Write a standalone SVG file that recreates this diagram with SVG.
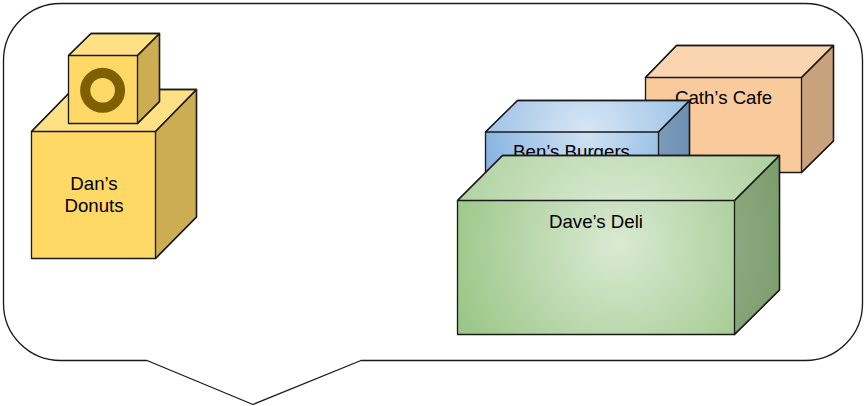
<svg xmlns="http://www.w3.org/2000/svg" width="864" height="406" viewBox="0 0 864 406">
<style>
.o{stroke:#1a1a1a;stroke-width:1.33;stroke-linejoin:round}
.t{font-family:"Liberation Sans",Arial,sans-serif;font-size:18.67px;fill:#000;text-anchor:middle}
.top{fill:#fff;fill-opacity:.2}
.side{fill:#000;fill-opacity:.2}
.y{fill:#ffd966}
.p{fill:#f9cb9c}
</style>
<defs>
<radialGradient id="gb" gradientUnits="userSpaceOnUse" cx="587" cy="135" r="118"><stop offset="0" stop-color="#cfe2f3"/><stop offset="1" stop-color="#7dadde"/></radialGradient>
<radialGradient id="gd" gradientUnits="userSpaceOnUse" cx="618" cy="245" r="190"><stop offset="0" stop-color="#d9ead3"/><stop offset="1" stop-color="#96c381"/></radialGradient>
</defs>
<g id="callout"><path class="o" fill="#fff" d="M60.5 3.5H805.5A57 57 0 0 1 862.5 60.5V303.5A57 57 0 0 1 805.5 360.5H361L253 404.5L147 360.5H60.5A57 57 0 0 1 3.5 303.5V60.5A57 57 0 0 1 60.5 3.5Z"/></g>
<g id="dans-donuts">
<path class="o y" d="M31.5 131.5L72.5 89.5H196.5V217L155.5 258.5H31.5Z"/>
<path class="o top" d="M31.5 131.5L72.5 89.5H196.5L155.5 131.5Z"/>
<path class="o side" d="M155.5 131.5L196.5 89.5V217L155.5 258.5Z"/>
<text class="t" x="94" y="190">Dan’s</text><text class="t" x="94" y="212">Donuts</text>
</g>
<g id="donut-box">
<path class="o y" d="M68.5 55.5L91 33.5H159.5V101.5L137.5 123.5H68.5Z"/>
<path class="o top" d="M68.5 55.5L91 33.5H159.5L137.5 55.5Z"/>
<path class="o side" d="M137.5 55.5L159.5 33.5V101.5L137.5 123.5Z"/>
<circle cx="102.6" cy="90.3" r="17.4" fill="none" stroke="#7f6000" stroke-width="10.2"/>
</g>
<g id="caths-cafe">
<path class="o p" d="M645.5 77.5L676.5 45.5H833.5V141L801.5 172.5H645.5Z"/>
<path class="o top" d="M645.5 77.5L676.5 45.5H833.5L801.5 77.5Z"/>
<path class="o side" d="M801.5 77.5L833.5 45.5V141L801.5 172.5Z"/>
<text class="t" x="723.5" y="104">Cath’s Cafe</text>
</g>
<g id="bens-burgers">
<path class="o" fill="url(#gb)" d="M485.5 132L517.5 100.5H689.5V170L658.5 200H485.5Z"/>
<path class="o top" d="M485.5 132L517.5 100.5H689.5L658.5 132Z"/>
<path class="o side" d="M658.5 132L689.5 100.5V170L658.5 200Z"/>
<text class="t" x="571.5" y="158">Ben’s Burgers</text>
</g>
<g id="daves-deli">
<path class="o" fill="url(#gd)" d="M457.5 200.5L502.5 155.5H779.5V290L734.5 334.5H457.5Z"/>
<path class="o top" d="M457.5 200.5L502.5 155.5H779.5L734.5 200.5Z"/>
<path class="o side" d="M734.5 200.5L779.5 155.5V290L734.5 334.5Z"/>
<text class="t" x="596" y="227.5">Dave’s Deli</text>
</g>
<g id="connectors"/>
</svg>
